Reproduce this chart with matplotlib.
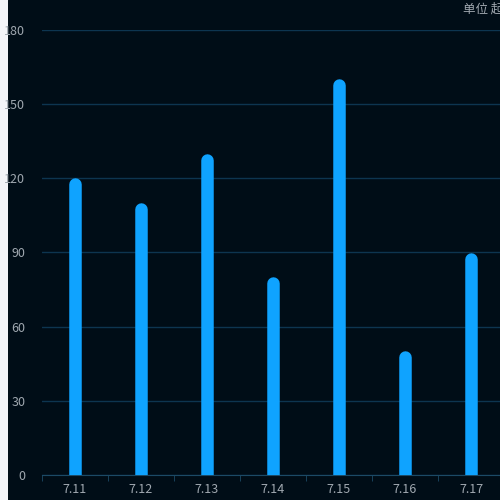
import matplotlib
matplotlib.use("Agg")
import matplotlib.pyplot as plt

categories = ["7.11", "7.12", "7.13", "7.14", "7.15", "7.16", "7.17"]
values = [120, 110, 130, 80, 160, 50, 90]
yticks = [0, 30, 60, 90, 120, 150, 180]

plt.rcParams['font.family'] = ['Noto Sans CJK SC', 'DejaVu Sans']
fig = plt.figure(figsize=(5, 5), dpi=100, facecolor="#f3f4f8")
bg = fig.add_axes([8/500, 0, 1, 1], zorder=-5)
bg.set_facecolor("#000d17")
bg.axis("off")
bg.patch.set_visible(True)
bg.add_patch(plt.Rectangle((0, 0), 1, 1, transform=bg.transAxes, color="#000d17"))
ax = fig.add_axes([42/500, 25/500, 462/500, 445/500], zorder=1)
ax.patch.set_alpha(0)
ax.set_xlim(0, len(categories))
ax.set_ylim(0, 180)
r = 6 / 445 * 180
for i, v in enumerate(values):
    ax.plot([i + 0.5, i + 0.5], [-10, v - r], color="#0fa3ff", lw=9,
            solid_capstyle="round", zorder=3)
ax.set_yticks(yticks)
ax.set_yticklabels([str(t) for t in yticks], color="#a0a8b0", fontsize=9)
ax.set_xticks([i + 0.5 for i in range(len(categories))])
ax.set_xticklabels(categories, color="#a0a8b0", fontsize=9)
ax.set_xticks(range(len(categories) + 1), minor=True)
ax.tick_params(axis="x", which="major", length=0, pad=6)
ax.tick_params(axis="x", which="minor", length=4, color="#1c4a66")
ax.tick_params(axis="y", length=0, pad=12)
ax.grid(axis="y", color="#0d3550", lw=1)
ax.set_axisbelow(True)
for s in ["top", "right", "left"]:
    ax.spines[s].set_visible(False)
ax.spines["bottom"].set_color("#1c4a66")
fig.text(463/500, 1 - 9/500, "单位 起", color="#a0a8b0", fontsize=9, va="center")
fig.savefig("out.png", dpi=100, facecolor=fig.get_facecolor())
